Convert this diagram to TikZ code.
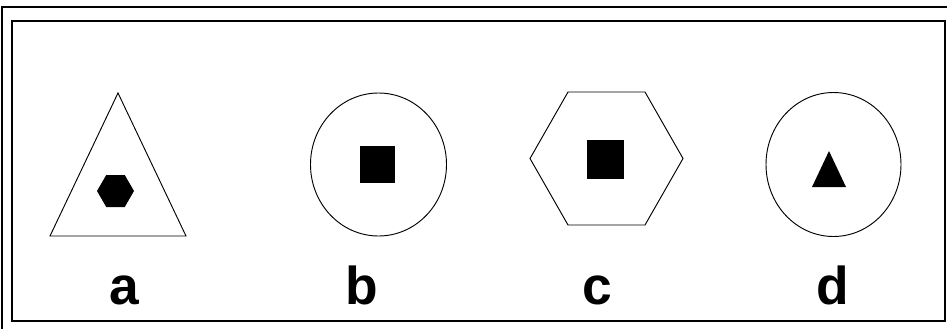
\documentclass[tikz,border=0pt]{standalone}
\usepackage{fontspec}
\setmainfont{Liberation Sans}
\usetikzlibrary{positioning}

\begin{document}
\begin{tikzpicture}[
  x=0.75pt, y=-0.75pt,
  frame/.style={line width=1.6pt},
  outline/.style={line width=0.7pt},
  glyph/.style={fill=black, draw=none},
  lbl/.style={anchor=base, inner sep=0pt, font=\fontsize{40}{40}\selectfont\bfseries}
]
\useasboundingbox (0,0) rectangle (947,329);

% frames
\draw[frame] (2,329) |- (947,7);
\draw[frame] (12,21) rectangle (945,321);

% a: triangle with hexagon
\draw[outline] (118,93) -- (186,236) -- (50,236) -- cycle;
\fill[glyph] (115.5,191) ++(-18.5,0) -- ++(9.25,-16) -- ++(18.5,0) -- ++(9.25,16)
  -- ++(-9.25,16) -- ++(-18.5,0) -- cycle;

% b: circle with square
\draw[outline] (378.5,164.5) circle[x radius=68, y radius=71.5];
\fill[glyph] (360,146) rectangle (395,183);

% c: hexagon with square
\draw[outline] (530,158.5) -- (568,92) -- (645,92) -- (683,158.5) -- (645,225)
  -- (568,225) -- cycle;
\fill[glyph] (587,140) rectangle (624,179);

% d: circle with triangle
\draw[outline] (833.5,164.5) circle[x radius=67.5, y radius=72];
\fill[glyph] (829,151) -- (846,187) -- (812,187) -- cycle;

% labels
\node[lbl] (lbla) at (124,304) {a};
\node[lbl] (lblb) at (362,304) {b};
\node[lbl] (lblc) at (597,304) {c};
\node[lbl] (lbld) at (833,304) {d};

\end{tikzpicture}
\end{document}
